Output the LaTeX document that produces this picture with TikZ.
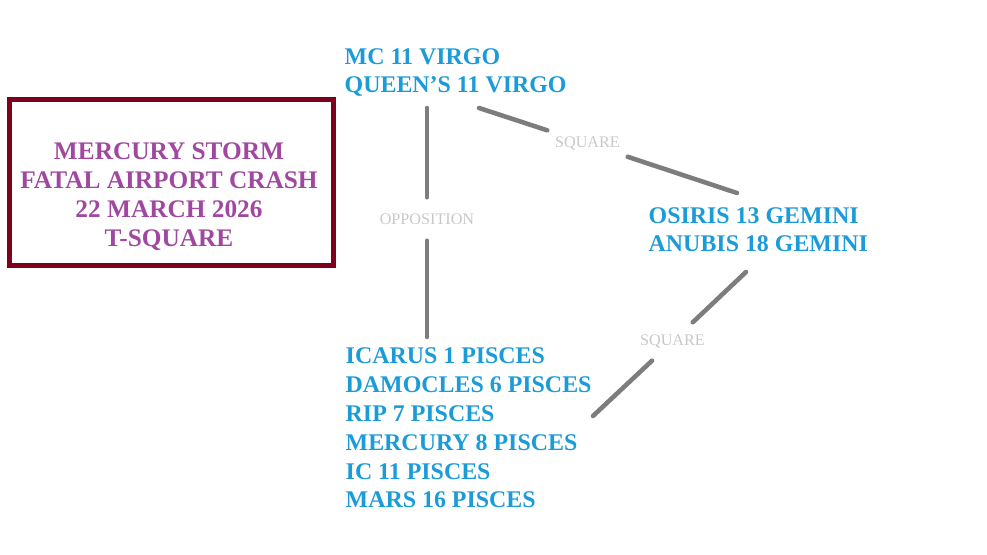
\documentclass[tikz,border=0pt]{standalone}
\usepackage{fontspec}
\setmainfont{Liberation Serif}
\usetikzlibrary{positioning}
\definecolor{starblue}{RGB}{27,155,216}
\definecolor{titleviolet}{RGB}{160,72,160}
\definecolor{boxred}{RGB}{125,0,30}
\definecolor{aspectgray}{RGB}{125,125,125}
\definecolor{labelgray}{RGB}{200,200,200}

\begin{document}
\begin{tikzpicture}[x=0.01cm, y=-0.01cm,
    planets/.style={anchor=base west, inner sep=0pt, align=left, text=starblue,
        font=\fontsize{6.8pt}{8.2pt}\selectfont\bfseries},
    aspect/.style={line width=1.3pt, aspectgray, line cap=round},
    aspectlabel/.style={inner sep=0pt, text=labelgray, font=\fontsize{4.6pt}{5pt}\selectfont}]
    \useasboundingbox (0,0) rectangle (987,555);

    % Titelkasten
    \draw[boxred, line width=1.42pt] (9.5,99.5) rectangle (333.5,265.5);
    \node[anchor=base, inner sep=0pt, align=center, text=titleviolet,
        font=\fontsize{7.2pt}{8.25pt}\selectfont\bfseries] (title) at (169,247)
        {MERCURY STORM\\FATAL AIRPORT CRASH\\22 MARCH 2026\\T-SQUARE};

    % Planetengruppen (Anker = letzte Grundlinie)
    \node[planets] (virgo) at (344,93) {MC 11 VIRGO\\QUEEN'S 11 VIRGO};
    \node[planets] (gemini) at (648,252) {OSIRIS 13 GEMINI\\ANUBIS 18 GEMINI};
    \node[planets] (pisces) at (345,508)
        {ICARUS 1 PISCES\\DAMOCLES 6 PISCES\\RIP 7 PISCES\\MERCURY 8 PISCES\\IC 11 PISCES\\MARS 16 PISCES};

    % Enden der Aspektlinien
    \coordinate (oppA) at (427,108);
    \coordinate (oppB) at (427,337);
    \coordinate (sqA) at (479,108);
    \coordinate (sqB) at (737,193);
    \coordinate (sqC) at (746,272);
    \coordinate (sqD) at (593,416);

    % Aspekte
    \node[aspectlabel, minimum height=0.42cm] (opp) at (427,219) {OPPOSITION};
    \node[aspectlabel, minimum width=0.79cm, minimum height=0.34cm] (sqOne) at (587.5,143.5) {SQUARE};
    \node[aspectlabel, minimum height=0.37cm] (sqTwo) at (672.5,341.5) {SQUARE};

    \draw[aspect] (oppA) -- (opp) -- (oppB);
    \draw[aspect] (sqA) -- (sqOne) -- (sqB);
    \draw[aspect] (sqC) -- (sqTwo) -- (sqD);
\end{tikzpicture}
\end{document}
